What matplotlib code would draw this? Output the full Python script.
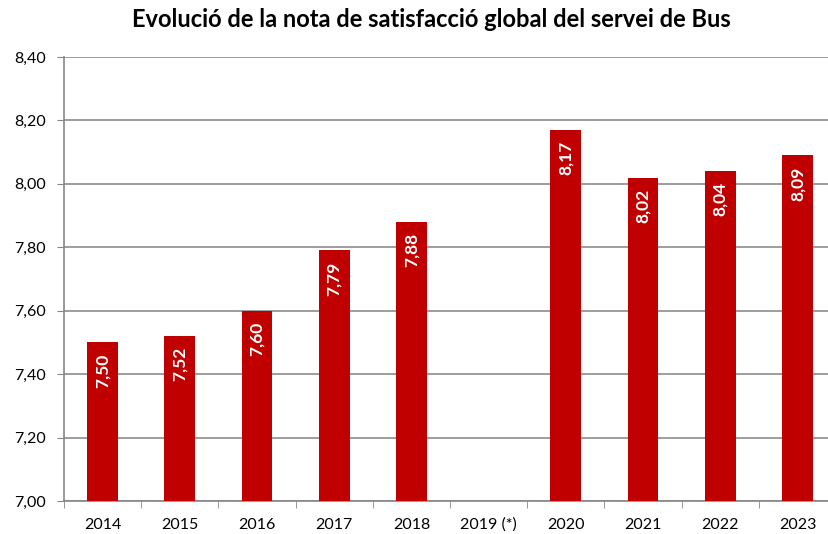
import matplotlib.pyplot as plt
import numpy as np

anys = ['2014', '2015', '2016', '2017', '2018', '2019 (*)', '2020', '2021', '2022', '2023']
notes = [7.50, 7.52, 7.60, 7.79, 7.88, np.nan, 8.17, 8.02, 8.04, 8.09]
y_ticks = [7.00, 7.20, 7.40, 7.60, 7.80, 8.00, 8.20, 8.40]

plt.rcParams['font.family'] = ['Lato', 'DejaVu Sans']

fig = plt.figure(figsize=(8.29, 5.34), dpi=100)
# l'àrea del gràfic surt una mica per la dreta, com a l'original
ax = fig.add_axes([64 / 829, 33 / 534, 772 / 829, 444 / 534])

x = np.arange(len(anys))
ax.bar(x, notes, width=0.4, color='#C00000', zorder=3)

for xi, v in zip(x, notes):
    if np.isnan(v):
        continue
    ax.annotate(f'{v:.2f}'.replace('.', ','), (xi, v), xytext=(0, -8),
                textcoords='offset points', rotation=90, ha='center', va='top',
                color='white', fontweight='bold', fontsize=12.5, zorder=4)

ax.set_xlim(-0.5, len(anys) - 0.5)
ax.set_ylim(7.0, 8.4)
ax.set_yticks(y_ticks)
ax.set_yticklabels([f'{t:.2f}'.replace('.', ',') for t in y_ticks], fontsize=11.5)
ax.set_xticks(x)
ax.set_xticklabels(anys, fontsize=11.5)
ax.set_xticks(np.arange(len(anys) + 1) - 0.5, minor=True)
ax.tick_params(axis='x', which='major', length=0, pad=12)
ax.tick_params(axis='x', which='minor', length=5, color='#868686')
ax.tick_params(axis='y', length=5, color='#868686', pad=8)

ax.grid(axis='y', color='#8C8C8C', linewidth=1.2, zorder=0)
for s in ['top', 'right']:
    ax.spines[s].set_visible(False)
for s in ['left', 'bottom']:
    ax.spines[s].set_color('#868686')
    ax.spines[s].set_linewidth(1.2)

fig.suptitle('Evolució de la nota de satisfacció global del servei de Bus',
             fontsize=17, fontweight='bold', x=0.52, y=0.985)

fig.savefig('out.png', dpi=100)
